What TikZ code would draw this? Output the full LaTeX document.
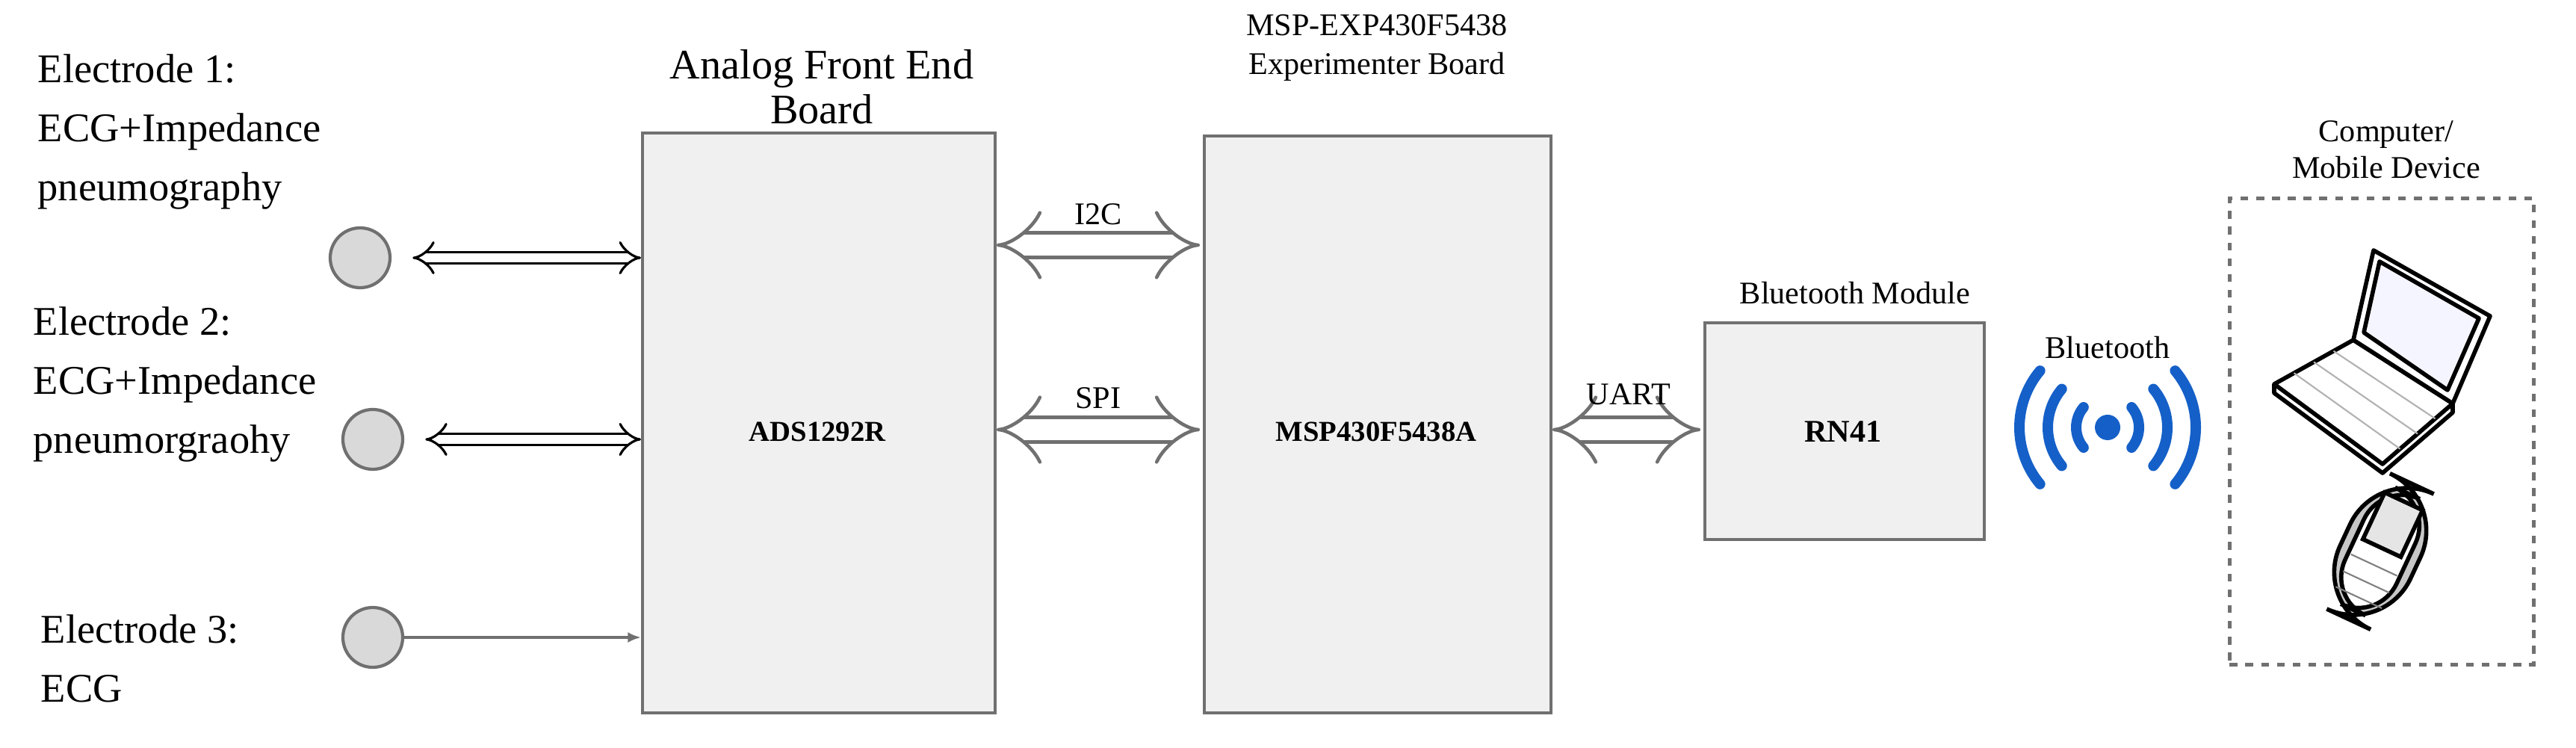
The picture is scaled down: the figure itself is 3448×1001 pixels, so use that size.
\documentclass[tikz,border=0pt]{standalone}
\usepackage{fontspec}
\setmainfont{Liberation Serif}
\usetikzlibrary{arrows.meta,calc}
\definecolor{boxfill}{HTML}{F0F0F0}
\definecolor{boxline}{HTML}{707070}
\definecolor{btblue}{HTML}{1560C8}
\begin{document}
\begin{tikzpicture}[x=0.01cm,y=-0.01cm,font=\rmfamily,
  board/.style={draw=boxline,line width=4pt*0.2845,fill=boxfill,anchor=north west,inner sep=0},
  title/.style={align=center,inner sep=0,font=\rmfamily\fontsize{12}{14}\selectfont},
  etext/.style={align=left,anchor=north west,inner sep=0,font=\rmfamily\fontsize{15.5}{22.5}\selectfont},
  electrode/.style={circle,draw=boxline,fill=boxfill!80!gray,line width=1.2pt,minimum size=0.8cm,inner sep=0},
  hollow/.style={double=white,draw=black,line width=0.9pt,double distance=3.5pt,{Implies}-{Implies}},
  bus/.style={double=white,draw=boxline,line width=1.3pt,double distance=8pt,{Implies[length=3pt]}-{Implies[length=3pt]}},
  lbl/.style={inner sep=0,font=\rmfamily\fontsize{12}{14}\selectfont}]
\useasboundingbox (0,0) rectangle (3448,1001);
% boards
\node[board,minimum width=4.72cm,minimum height=7.76cm] (afe) at (858,176) {};
\node[board,minimum width=4.64cm,minimum height=7.72cm] (msp) at (1610,180) {};
\node[board,minimum width=3.74cm,minimum height=2.9cm] (rn) at (2280,430) {};
\node[font=\rmfamily\bfseries\fontsize{11}{13}\selectfont] (ads) at (1094,578) {ADS1292R};
\node[font=\rmfamily\bfseries\fontsize{11}{13}\selectfont] (mspl) at (1842,578) {MSP430F5438A};
\node[font=\rmfamily\bfseries\fontsize{12}{14}\selectfont] (rnl) at (2467,578) {RN41};
\node[title,font=\rmfamily\fontsize{16}{17}\selectfont] (afet) at (1100,116) {Analog Front End\\Board};
\node[title,font=\rmfamily\fontsize{12}{15}\selectfont] (mspt) at (1843,64) {MSP-EXP430F5438\\Experimenter Board};
\node[title] (rnt) at (2483,392) {Bluetooth Module};
\node[title] (devt) at (3194,200) {Computer/\\Mobile Device};
% electrodes
\node[etext] (t1) at (50,72) {Electrode 1:\\ECG+Impedance\\pneumography};
\node[etext] (t2) at (44,410) {Electrode 2:\\ECG+Impedance\\pneumorgraohy};
\node[etext] (t3) at (54,822) {Electrode 3:\\ECG};
\node[electrode] (e1) at (482,345) {};
\node[electrode] (e2) at (499,588) {};
\node[electrode] (e3) at (499,853) {};
\coordinate (a1) at (858,345);
\coordinate (a2) at (858,588);
\coordinate (a3) at (858,853);
\draw[hollow,shorten <=8pt] (e1) -- (a1);
\draw[hollow,shorten <=8pt] (e2) -- (a2);
\draw[boxline,line width=1.2pt,-{Latex[length=5pt,width=4pt]}] (e3) -- (a3);
% buses
\coordinate (i2a) at (1334,328); \coordinate (i2b) at (1606,328);
\coordinate (spa) at (1334,575); \coordinate (spb) at (1606,575);
\coordinate (uaa) at (2078,575); \coordinate (uab) at (2276,575);
\draw[bus] (i2a) -- (i2b);
\draw[bus] (spa) -- (spb);
\draw[bus] (uaa) -- (uab);
\node[lbl] (i2l) at (1470,287) {I2C};
\node[lbl] (spl) at (1470,533) {SPI};
\node[lbl] (ual) at (2180,528) {UART};
% bluetooth icon
\node[lbl] (btl) at (2821,465) {Bluetooth};
\coordinate (bt) at (2821,572);
\fill[btblue] (bt) circle (0.17cm);
\begin{scope}[btblue,line width=7pt*0.2845*2,line cap=round]
\foreach \r in {42,80,118}{
  \draw (bt) ++(40:\r) arc[start angle=40,end angle=-40,radius=\r];
  \draw (bt) ++(140:\r) arc[start angle=140,end angle=220,radius=\r];
}
\end{scope}
% device box
\node[draw=boxline,dashed,line width=1.3pt,anchor=north west,minimum width=4.07cm,minimum height=6.24cm,inner sep=0] (dev) at (2982,263) {};
% laptop
\begin{scope}[line width=1.6pt,line join=round]
\draw[fill=white] (3044,514) -- (3044,526) -- (3189,633) -- (3283,552) -- (3283,540);
\draw[fill=white] (3044,514) -- (3189,621) -- (3283,540) -- (3150,455) -- cycle;
\foreach \i in {1,2,3}{\draw[gray!60,line width=0.6pt] ($(3044,514)!\i/4!(3150,455)$) -- ($(3189,621)!\i/4!(3283,540)$);}
\draw[fill=white] (3150,455) -- (3177,335) -- (3333,423) -- (3283,540) -- cycle;
\draw[fill=blue!4] (3164,445) -- (3185,350) -- (3318,426) -- (3276,522) -- cycle;
\end{scope}
% phone
\begin{scope}[shift={(3186,738)},rotate=-25,line width=1.6pt]
\draw[fill=gray!45,rounded corners=24pt] (-52,-100) rectangle (52,100);
\draw[fill=white,rounded corners=16pt] (-38,-86) rectangle (38,86);
\draw[fill=gray!20] (-28,-74) rectangle (28,-5);
\foreach \yy in {20,45,68}{\draw[gray,line width=0.6pt] (-34,\yy) -- (34,\yy);}
\end{scope}
\end{tikzpicture}
\end{document}
